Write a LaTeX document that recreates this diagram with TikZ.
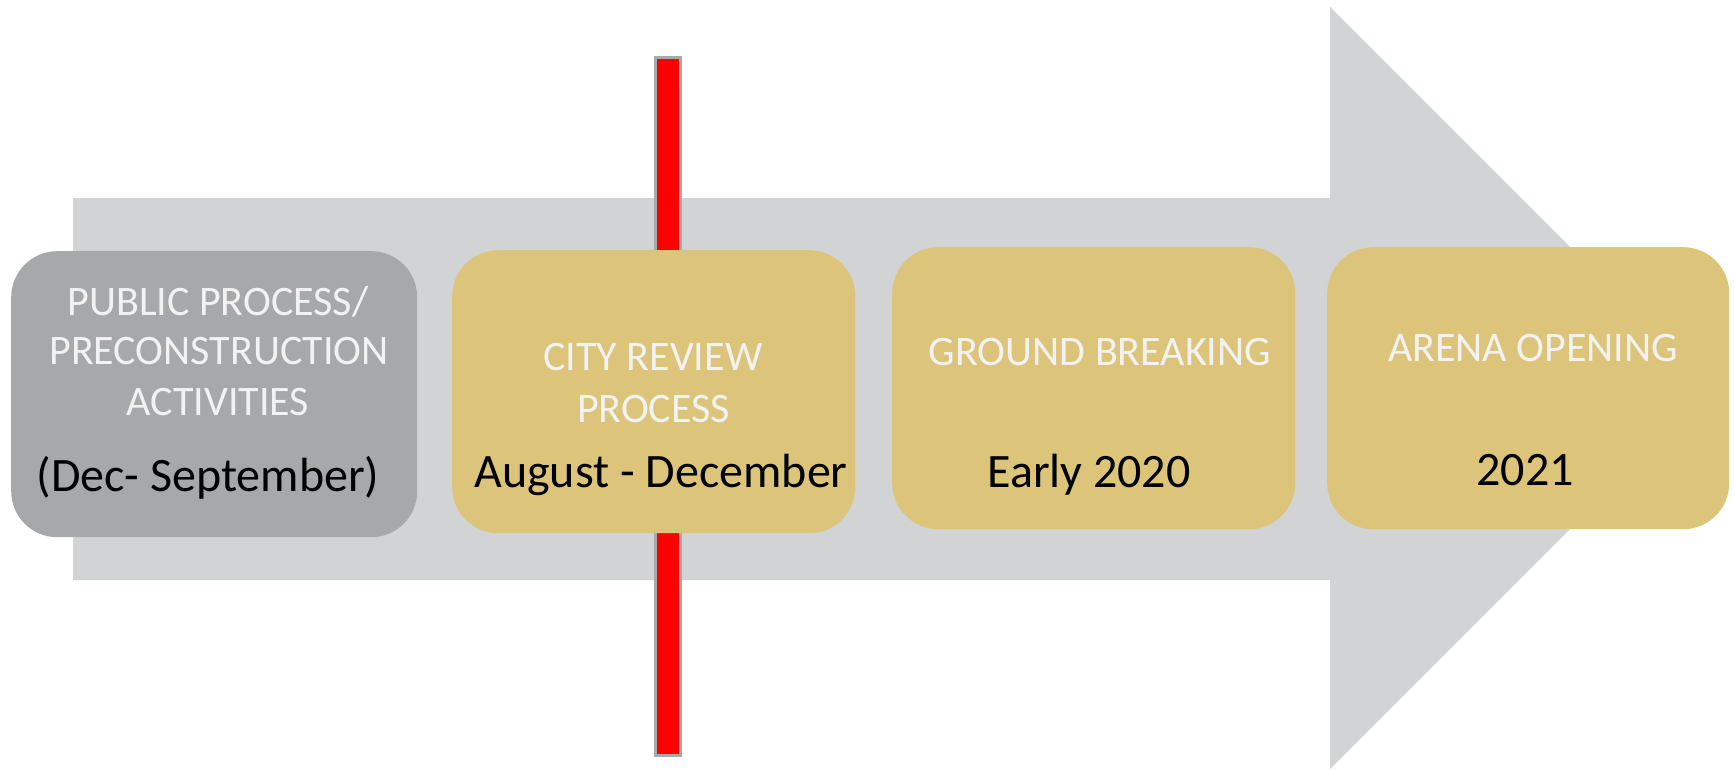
\documentclass[tikz,border=0pt]{standalone}
\usepackage{fontspec}
\setmainfont{Carlito}
\definecolor{arrowgray}{HTML}{D1D3D4}
\definecolor{boxgray}{HTML}{A7A8AA}
\definecolor{boxgold}{HTML}{DCC57A}
\definecolor{lighttext}{HTML}{F2F2F2}
\definecolor{barred}{HTML}{FF0000}
\definecolor{baredge}{HTML}{A9A9A9}
\begin{document}
\begin{tikzpicture}[x=1pt,y=-1pt,
  stagebox/.style={rounded corners=46pt, inner sep=0pt, anchor=north west},
  whitetxt/.style={text=lighttext, inner sep=0pt, anchor=base, font=\fontsize{42}{50}\selectfont},
  blacktxt/.style={text=black, inner sep=0pt, anchor=base, font=\fontsize{48}{56}\selectfont}]
\useasboundingbox (0,0) rectangle (1735,769);
\fill[white] (0,0) rectangle (1735,769);
% big arrow
\fill[arrowgray] (73,198) -- (1330,198) -- (1330,7) -- (1711,388) -- (1330,769) -- (1330,580) -- (73,580) -- cycle;
% red bar
\node[draw=baredge, fill=barred, line width=2.5pt, minimum width=25pt, minimum height=698pt, inner sep=0pt, anchor=north west] (bar) at (654,56) {};
% boxes
\node[stagebox, fill=boxgray, minimum width=406pt, minimum height=286pt] (b1) at (11,251) {};
\node[stagebox, fill=boxgold, minimum width=403pt, minimum height=283pt] (b2) at (452,250) {};
\node[stagebox, fill=boxgold, minimum width=403pt, minimum height=282pt] (b3) at (892,247) {};
\node[stagebox, fill=boxgold, minimum width=402pt, minimum height=282pt] (b4) at (1327,247) {};
% texts
\node[whitetxt] (t1a) at (218,315) {PUBLIC PROCESS/};
\node[whitetxt] (t1b) at (219,364) {PRECONSTRUCTION};
\node[whitetxt] (t1c) at (218,415) {ACTIVITIES};
\node[blacktxt] (t1d) at (208,491) {(Dec- September)};
\node[whitetxt] (t2a) at (653,370) {CITY REVIEW};
\node[whitetxt] (t2b) at (653.5,422) {PROCESS};
\node[blacktxt] (t2c) at (661,487) {August - December};
\node[whitetxt] (t3a) at (1100,365) {GROUND BREAKING};
\node[blacktxt] (t3b) at (1089,487) {Early 2020};
\node[whitetxt] (t4a) at (1533,361) {ARENA OPENING};
\node[blacktxt] (t4b) at (1525,485) {2021};
\end{tikzpicture}
\end{document}
